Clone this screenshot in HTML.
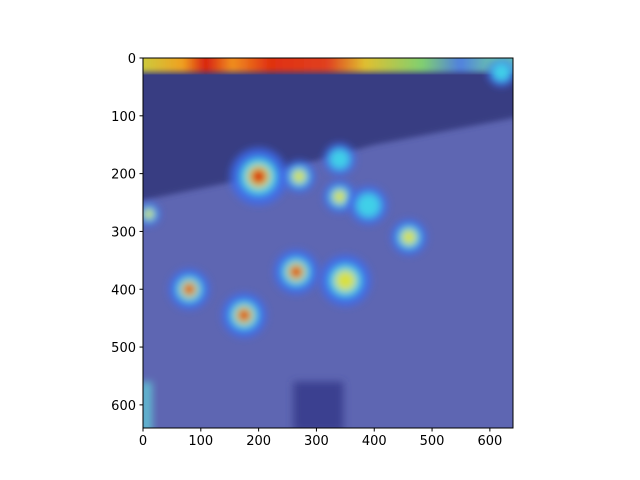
<!DOCTYPE html>
<html><head><meta charset="utf-8"><style>html,body{margin:0;background:#fff;overflow:hidden;width:640px;height:480px}svg{display:block}text{font-family:"DejaVu Sans","Liberation Sans",sans-serif;font-size:13px;fill:#000}</style></head>
<body>
<svg id="chart" width="640" height="480">
<defs>
<clipPath id="clip"><rect x="143" y="58" width="370" height="370"/></clipPath>
<filter id="blur" x="-50%" y="-50%" width="200%" height="200%"><feGaussianBlur stdDeviation="4"/></filter>
<filter id="blur2" x="-10%" y="-10%" width="120%" height="120%"><feGaussianBlur stdDeviation="3"/></filter>
<linearGradient id="topstrip" x1="0" x2="1" y1="0" y2="0">
<stop offset="0" stop-color="#c8d040"/><stop offset="0.12" stop-color="#f0a020"/><stop offset="0.18" stop-color="#d82010"/><stop offset="0.25" stop-color="#f09020"/><stop offset="0.35" stop-color="#e03010"/><stop offset="0.5" stop-color="#e04020"/><stop offset="0.6" stop-color="#e0c030"/><stop offset="0.75" stop-color="#80d070"/><stop offset="0.85" stop-color="#5080e0"/><stop offset="0.95" stop-color="#70d0a0"/><stop offset="1" stop-color="#60c0c0"/>
</linearGradient>
</defs>
<g id="img" clip-path="url(#clip)"></g>
<rect x="143" y="58" width="370" height="370" fill="none" stroke="#000" stroke-width="1"/>
<g id="ticks"></g>
</svg>
<script>
const hotX = [200, 270, 340, 340, 390, 460, 80, 175, 265, 350, 10, 620];
const hotY = [205, 205, 175, 240, 255, 310, 400, 445, 370, 385, 270, 25];
const hotV = [0.95, 0.75, 0.6, 0.7, 0.5, 0.7, 0.95, 0.9, 0.9, 0.7, 0.7, 0.5];
const hotR = [45, 25, 25, 25, 30, 28, 32, 35, 35, 40, 18, 22];
const xTicks = [0, 100, 200, 300, 400, 500, 600];
const yTicks = [0, 100, 200, 300, 400, 500, 600];
const NS = "http://www.w3.org/2000/svg";
const X0 = 143, Y0 = 58, S = 370 / 640;
const sx = v => X0 + v * S, sy = v => Y0 + v * S;
const img = document.getElementById('img');
function mk(tag, attrs, parent) { const e = document.createElementNS(NS, tag); for (const k in attrs) e.setAttribute(k, attrs[k]); parent.appendChild(e); return e; }
let bg = mk('rect', {x: 143, y: 58, width: 370, height: 370, fill: '#5e66b2'}, img);


let dark = mk('polygon', {points: `${sx(-20)},${sy(-20)} ${sx(660)},${sy(-20)} ${sx(660)},${sy(100)} ${sx(400)},${sy(150)} ${sx(200)},${sy(205)} ${sx(-20)},${sy(250)}`, fill: '#383e82', filter: 'url(#blur2)'}, img);


let bot = mk('rect', {x: sx(260), y: sy(560), width: 50, height: 50, fill: '#3a4090', filter: 'url(#blur)'}, img);


let edge = mk('rect', {x: sx(-5), y: sy(560), width: 12, height: 80, fill: '#60b8d0', filter: 'url(#blur)'}, img);


let strip = mk('rect', {x: sx(-10), y: sy(-10), width: 380, height: 20, fill: 'url(#topstrip)', filter: 'url(#blur2)'}, img);


for (let i = 0; i < hotX.length; i++) {
  const g = mk('g', {filter: 'url(#blur)'}, img);
  
  
  const cx = sx(hotX[i]), cy = sy(hotY[i]), r = hotR[i] * S, v = hotV[i];
  mk('circle', {cx, cy, r: r * 1.1, fill: '#3c6cf0', opacity: 0.85}, g);
  if (v > 0.4) mk('circle', {cx, cy, r: r * 0.7, fill: '#40d0e8'}, g);
  if (v > 0.6) mk('circle', {cx, cy, r: r * 0.45, fill: '#d8e040'}, g);
  if (v > 0.8) mk('circle', {cx, cy, r: r * 0.3, fill: '#d82010'}, g);
}
const tg = document.getElementById('ticks');
xTicks.forEach(t => {
  const l = mk('line', {x1: sx(t), x2: sx(t), y1: 428, y2: 431.5, stroke: '#000'}, tg);
  
  
  const tx = mk('text', {x: sx(t), y: 445, 'text-anchor': 'middle'}, tg); tx.textContent = t;
  
  
});
yTicks.forEach(t => {
  const l = mk('line', {x1: 139.5, x2: 143, y1: sy(t), y2: sy(t), stroke: '#000'}, tg);
  
  
  const tx = mk('text', {x: 136, y: sy(t) + 5, 'text-anchor': 'end'}, tg); tx.textContent = t;
  
  
});
</script>
</body></html>
